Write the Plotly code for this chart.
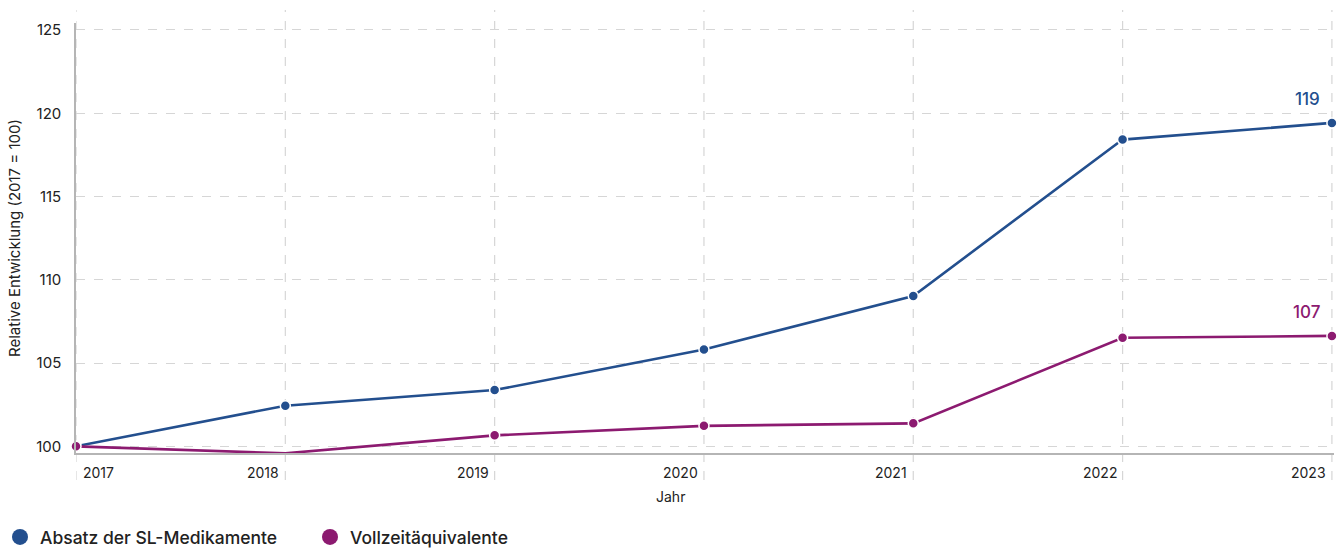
import plotly.graph_objects as go

years = [2017, 2018, 2019, 2020, 2021, 2022, 2023]
absatz = [100.0, 102.44, 103.38, 105.82, 109.03, 118.42, 119.42]
vze = [100.0, 99.58, 100.66, 101.23, 101.38, 106.52, 106.63]
names = ["Absatz der SL-Medikamente", "Vollzeitäquivalente"]
colors = ["#234f8e", "#8c1a70"]
y_ticks = [100, 105, 110, 115, 120, 125]
end_labels = ["119", "107"]

FONT = "Inter, Roboto, sans-serif"
W, H = 1341, 549
L, R, T, B = 76, 7, 23, 96
PW, PH = W - L - R, H - T - B

fig = go.Figure()
for vals, name, col in zip([absatz, vze], names, colors):
    fig.add_trace(go.Scatter(
        x=years, y=vals, mode="lines+markers", name=name, showlegend=False,
        line=dict(color=col, width=2.6),
        marker=dict(size=10, color=col, line=dict(color="white", width=1.5)),
        cliponaxis=False, hoverinfo="skip"))
    # legend proxy
    fig.add_trace(go.Scatter(
        x=[None], y=[None], mode="markers", name=name,
        marker=dict(size=17, color=col)))

# vertical dashed gridlines extending beyond plot area
for yr in years:
    fig.add_shape(type="line", xref="x", yref="paper", x0=yr, x1=yr,
                  y0=-0.063, y1=1.03,
                  line=dict(color="#d6d6d6", width=1.2, dash="dash"), layer="below")

# x tick labels
for i, yr in enumerate(years):
    first = i == 0
    fig.add_annotation(x=yr, y=-0.02, xref="x", yref="paper", text=str(yr),
                       showarrow=False, xanchor="left" if first else "right",
                       yanchor="top", xshift=5 if first else -4,
                       font=dict(family=FONT, size=14, color="#222"))

# end labels
for vals, lab, col in zip([absatz, vze], end_labels, colors):
    fig.add_annotation(x=years[-1], y=vals[-1], text=lab, showarrow=False,
                       xanchor="right", yanchor="bottom", xshift=-10, yshift=12,
                       font=dict(family=FONT, size=17, color=col, weight=500))

# x-axis title
fig.add_annotation(x=(670 - L) / PW, y=-(496 - (T + PH)) / PH,
                   xref="paper", yref="paper", text="Jahr", showarrow=False,
                   xanchor="center", yanchor="middle",
                   font=dict(family=FONT, size=14, color="#222"))

fig.update_layout(
    width=W, height=H, autosize=False,
    margin=dict(l=L, r=R, t=T, b=B, autoexpand=False),
    paper_bgcolor="white", plot_bgcolor="white",
    font=dict(family=FONT, size=14, color="#222"),
    xaxis=dict(range=[2017, 2023.01], showgrid=False, showticklabels=False,
               ticks="", zeroline=False, showline=True, linecolor="#b5b5b5",
               linewidth=1.5, fixedrange=True, automargin=False),
    yaxis=dict(range=[99.6, 125.42], tickvals=y_ticks, showgrid=True,
               gridcolor="#d6d6d6", griddash="dash", gridwidth=1.2,
               zeroline=False, showline=True, linecolor="#b5b5b5", linewidth=1.5,
               ticks="", ticklabelstandoff=10, automargin=False,
               tickfont=dict(family=FONT, size=15, color="#222"),
               title=dict(text="Relative Entwicklung (2017 = 100)", standoff=12,
                          font=dict(family=FONT, size=15, color="#222"))),
    legend=dict(orientation="h", xref="container", x=-0.009, xanchor="left",
                yref="container", y=(H - 537) / H, yanchor="middle",
                font=dict(family=FONT, size=17.5, color="#222", weight=500),
                itemwidth=30, entrywidth=265, traceorder="normal",
                bgcolor="rgba(0,0,0,0)"),
    showlegend=True,
)

fig.write_html("out.html")
